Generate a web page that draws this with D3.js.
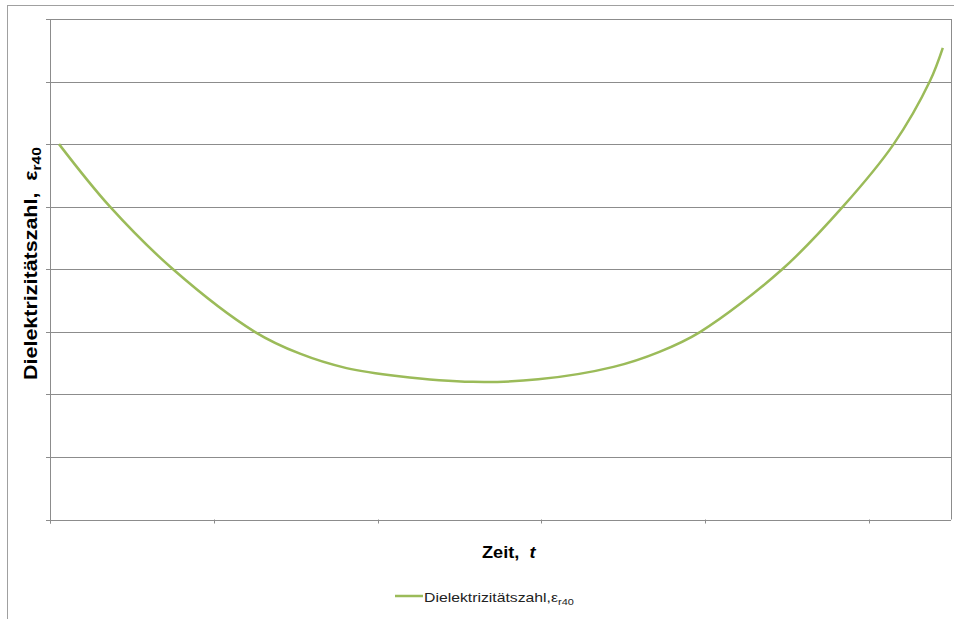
<!DOCTYPE html>
<html>
<head>
<meta charset="utf-8">
<script src="https://cdn.jsdelivr.net/npm/d3@7"></script>
<style>
  html, body { margin: 0; padding: 0; background: #fff; }
  svg { display: block; font-family: "Liberation Sans", Arial, sans-serif; }
  text { white-space: pre; }
</style>
</head>
<body>
<svg id="chart" width="954" height="619"></svg>
<script>
// Data (time in tick units, value in gridline units)
const timeValues = [0.055, 0.366, 0.751, 1.25, 1.526, 1.81, 2.13, 2.58, 2.98, 3.44, 3.72, 3.97, 4.47, 4.84, 5.15, 5.37, 5.45];
const epsValues  = [6.0,   5.0,   4.0,   3.0,  2.65,  2.42, 2.29, 2.20, 2.24, 2.44, 2.68, 3.0,  4.0,  5.0,  6.0,  7.0,  7.54];
const xTicks = [0, 1, 2, 3, 4, 5];
const yTicks = [0, 1, 2, 3, 4, 5, 6, 7, 8];
const seriesName = "Dielektrizitätszahl,";

const svg = d3.select("#chart");
const plotLeft = 50, plotRight = 951, plotTop = 19, plotBottom = 519.5;

const x = d3.scaleLinear().domain([0, 5.5]).range([plotLeft, plotRight]);
const y = d3.scaleLinear().domain([0, 8]).range([plotBottom, plotTop]);

// outer chart border
svg.append("rect").attr("x", 7.5).attr("y", 5.5).attr("width", 1000).attr("height", 1000)
  .attr("fill", "none").attr("stroke", "#a0a0a0").attr("stroke-width", 1);

// gridlines
svg.append("g").selectAll("line").data(yTicks).join("line")
  .attr("x1", plotLeft - 4).attr("x2", plotRight)
  .attr("y1", d => Math.round(y(d)) + 0.5).attr("y2", d => Math.round(y(d)) + 0.5)
  .attr("stroke", "#8c8c8c").attr("stroke-width", 1);

// plot right border
svg.append("line").attr("x1", plotRight + 0.5).attr("x2", plotRight + 0.5).attr("y1", plotTop).attr("y2", plotBottom)
  .attr("stroke", "#8c8c8c");

// y axis line
svg.append("line").attr("x1", plotLeft + 0.5).attr("x2", plotLeft + 0.5).attr("y1", plotTop).attr("y2", plotBottom + 4)
  .attr("stroke", "#8c8c8c");

// x ticks
svg.append("g").selectAll("line").data(xTicks).join("line")
  .attr("x1", d => Math.round(x(d)) + 0.5).attr("x2", d => Math.round(x(d)) + 0.5)
  .attr("y1", plotBottom).attr("y2", plotBottom + 4)
  .attr("stroke", "#8c8c8c");

// series line
const data = timeValues.map((t, i) => [t, epsValues[i]]);
svg.append("path").datum(data)
  .attr("fill", "none").attr("stroke", "#9bbb59").attr("stroke-width", 2.5)
  .attr("d", d3.line().x(d => x(d[0])).y(d => y(d[1])).curve(d3.curveCatmullRom.alpha(0.5)));

// helper: stretch text horizontally to a target width (text anchored at its start, at 0,0)
function fitWidth(sel, target) {
  const w = sel.node().getBBox().width;
  return target / w;
}

// y axis title (rotated)
const ytG = svg.append("g");
const yt = ytG.append("text")
  .attr("x", 0).attr("y", 0)
  .attr("font-size", 18).attr("font-weight", "bold").attr("fill", "#000");
yt.append("tspan").text("Dielektrizitätszahl,  ε");
yt.append("tspan").attr("font-size", 13).attr("dy", 4).text("r40");
const syt = fitWidth(yt, 233);
ytG.attr("transform", `translate(37,380) rotate(-90) scale(${syt},1)`);

// x axis title
const xtG = svg.append("g");
const xt = xtG.append("text").attr("x", 0).attr("y", 0)
  .attr("font-size", 17).attr("font-weight", "bold").attr("fill", "#000");
xt.append("tspan").text("Zeit,  ");
xt.append("tspan").attr("font-style", "italic").text("t");
const sxt = fitWidth(xt, 55);
xtG.attr("transform", `translate(482,558) scale(${sxt},1)`);

// legend
svg.append("line").attr("x1", 395).attr("x2", 423).attr("y1", 596).attr("y2", 596)
  .attr("stroke", "#9bbb59").attr("stroke-width", 2.5);
const ltG = svg.append("g");
const lt = ltG.append("text").attr("x", 0).attr("y", 0).attr("font-size", 13).attr("fill", "#222");
lt.append("tspan").text(seriesName + "ε");
lt.append("tspan").attr("font-size", 9).attr("dy", 3).text("r40");
const slt = fitWidth(lt, 150);
ltG.attr("transform", `translate(424,602) scale(${slt},1)`);
</script>
</body>
</html>
